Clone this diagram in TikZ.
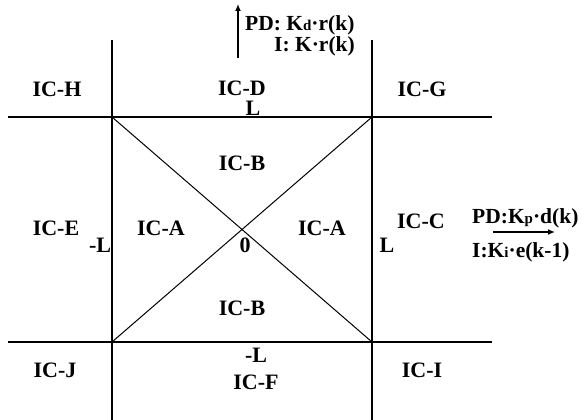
\documentclass[tikz,border=0pt]{standalone}
\usepackage{fontspec}
\setmainfont{Liberation Serif}
\usetikzlibrary{arrows.meta}
\newcommand{\sm}[1]{{\fontsize{15}{15}\selectfont #1}}
\tikzset{
  lab/.style={font=\fontsize{22}{24}\selectfont\bfseries, inner sep=0pt},
  flab/.style={font=\fontsize{21.5}{23}\selectfont\bfseries, inner sep=0pt},
  grid line/.style={line width=1.6pt},
  diag line/.style={line width=1pt},
  arr/.style={line width=1.6pt, -{Latex[length=7pt,width=6pt]}}
}
\begin{document}
\begin{tikzpicture}[x=1pt,y=-1pt]
\useasboundingbox (0,0) rectangle (587,420);
% corners and line ends
\coordinate (TL) at (112,117);
\coordinate (TR) at (372,117);
\coordinate (BL) at (112,342);
\coordinate (BR) at (372,342);
\coordinate (vLt) at (112,40);
\coordinate (vLb) at (112,420);
\coordinate (vRt) at (372,40);
\coordinate (vRb) at (372,420);
\coordinate (hTl) at (8,117);
\coordinate (hTr) at (492,117);
\coordinate (hBl) at (8,342);
\coordinate (hBr) at (492,342);
\draw[grid line] (vLt) -- (vLb);
\draw[grid line] (vRt) -- (vRb);
\draw[grid line] (hTl) -- (hTr);
\draw[grid line] (hBl) -- (hBr);
\draw[diag line] (TL) -- (BR);
\draw[diag line] (TR) -- (BL);
% region labels
\node[lab] (h) at (57,89) {IC-H};
\node[lab] (d) at (242,88) {IC-D};
\node[lab] (lt) at (253,108) {L};
\node[lab] (g) at (422,89) {IC-G};
\node[lab] (e) at (56,228) {IC-E};
\node[lab] (ml) at (100,245) {-L};
\node[lab] (a1) at (161,228) {IC-A};
\node[lab] (zero) at (245,245) {0};
\node[lab] (a2) at (322,228) {IC-A};
\node[lab] (lr) at (387,245) {L};
\node[lab] (c) at (421,221) {IC-C};
\node[lab] (b1) at (242,163) {IC-B};
\node[lab] (b2) at (242,308) {IC-B};
\node[lab] (j) at (55,370) {IC-J};
\node[lab] (mlb) at (256,355) {-L};
\node[lab] (f) at (256,382) {IC-F};
\node[lab] (i) at (422,370) {IC-I};
% top gains and arrow
\node[flab, anchor=base west] (pd1) at (245,30.5) {PD: K\sm{d}·r(k)};
\node[flab, anchor=base east] (i1) at (355,51.5) {I: K·r(k)};
\coordinate (u0) at (238,58);
\coordinate (u1) at (238,4);
\draw[arr] (u0) -- (u1);
% right gains and arrow
\node[flab, anchor=base west] (pd2) at (472,223) {PD:K\sm{p}·d(k)};
\node[flab, anchor=base west] (i2) at (472,257) {I:K\sm{i}·e(k-1)};
\coordinate (r0) at (493,232);
\coordinate (r1) at (555,232);
\draw[arr] (r0) -- (r1);
\end{tikzpicture}
\end{document}
